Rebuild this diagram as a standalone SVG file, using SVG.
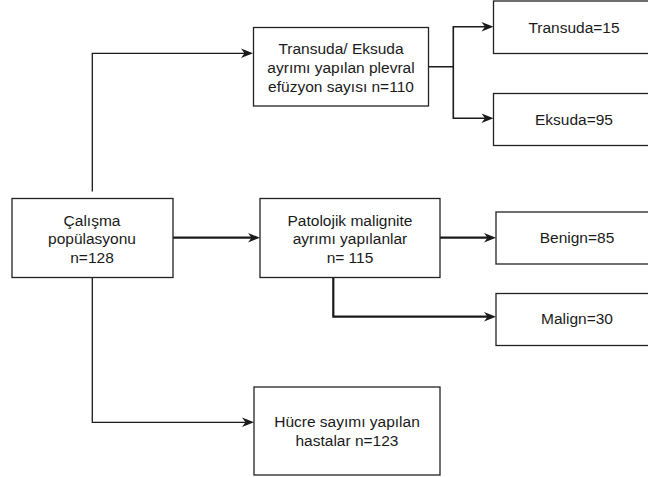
<svg xmlns="http://www.w3.org/2000/svg" width="648" height="477" viewBox="0 0 648 477">
<defs>
<style>
.box{fill:#ffffff;stroke:#222222;stroke-width:1.3}
.t{font-family:"Liberation Sans",Arial,sans-serif;font-size:15.5px;fill:#1a1a1a;text-anchor:middle}
.c{fill:none;stroke:#1a1a1a;stroke-linejoin:miter}
.thin{stroke-width:1.3}
.mid{stroke-width:1.6}
.thick{stroke-width:2.2}
</style>
<marker id="arr" markerUnits="userSpaceOnUse" markerWidth="13" markerHeight="10" viewBox="0 0 13 10" refX="8.5" refY="5" orient="auto">
<path d="M0.5,0.3 L12.5,5 L0.5,9.7 L4,5 Z" fill="#1a1a1a"/>
</marker>
</defs>
<rect width="648" height="477" fill="#ffffff"/>
<g id="connectors">
<path class="c thin" d="M92.3,191.5 V53.3 H249" marker-end="url(#arr)"/>
<path class="c thick" d="M173,237.7 H256" marker-end="url(#arr)"/>
<path class="c thin" d="M92.3,278 V422.3 H250" marker-end="url(#arr)"/>
<path class="c mid" d="M428.5,66.7 H453.3 V26.7 H489.5" marker-end="url(#arr)"/>
<path class="c mid" d="M453.3,66.7 V118.3 H489.5" marker-end="url(#arr)"/>
<path class="c thick" d="M440,237.7 H492" marker-end="url(#arr)"/>
<path class="c thick" d="M333.3,277.5 V316.7 H492" marker-end="url(#arr)"/>
</g>
<g id="calisma">
<rect class="box" x="12" y="198.5" width="161" height="79"/>
<text class="t" x="92" y="225.5">Çalışma</text>
<text class="t" x="92" y="244.3">popülasyonu</text>
<text class="t" x="92" y="263">n=128</text>
</g>
<g id="transuda-eksuda">
<rect class="box" x="253.5" y="27.5" width="175" height="78.5"/>
<text class="t" x="341" y="54.3">Transuda/ Eksuda</text>
<text class="t" x="341" y="73">ayrımı yapılan plevral</text>
<text class="t" x="341" y="92">efüzyon sayısı n=110</text>
</g>
<g id="patolojik">
<rect class="box" x="260" y="198.5" width="180" height="79"/>
<text class="t" x="350" y="225.5">Patolojik malignite</text>
<text class="t" x="350" y="244.3">ayrımı yapılanlar</text>
<text class="t" x="350" y="263">n= 115</text>
</g>
<g id="hucre">
<rect class="box" x="254" y="387" width="186" height="88"/>
<text class="t" x="347" y="427">Hücre sayımı yapılan</text>
<text class="t" x="347" y="446">hastalar n=123</text>
</g>
<g id="transuda">
<rect class="box" x="493.5" y="1" width="162" height="52.5"/>
<text class="t" x="574" y="32.5">Transuda=15</text>
</g>
<g id="eksuda">
<rect class="box" x="493.5" y="93.5" width="162" height="52"/>
<text class="t" x="574" y="124.5">Eksuda=95</text>
</g>
<g id="benign">
<rect class="box" x="496" y="212" width="162" height="52"/>
<text class="t" x="577" y="242.7">Benign=85</text>
</g>
<g id="malign">
<rect class="box" x="496" y="293.5" width="162" height="52"/>
<text class="t" x="577" y="324.3">Malign=30</text>
</g>
</svg>
